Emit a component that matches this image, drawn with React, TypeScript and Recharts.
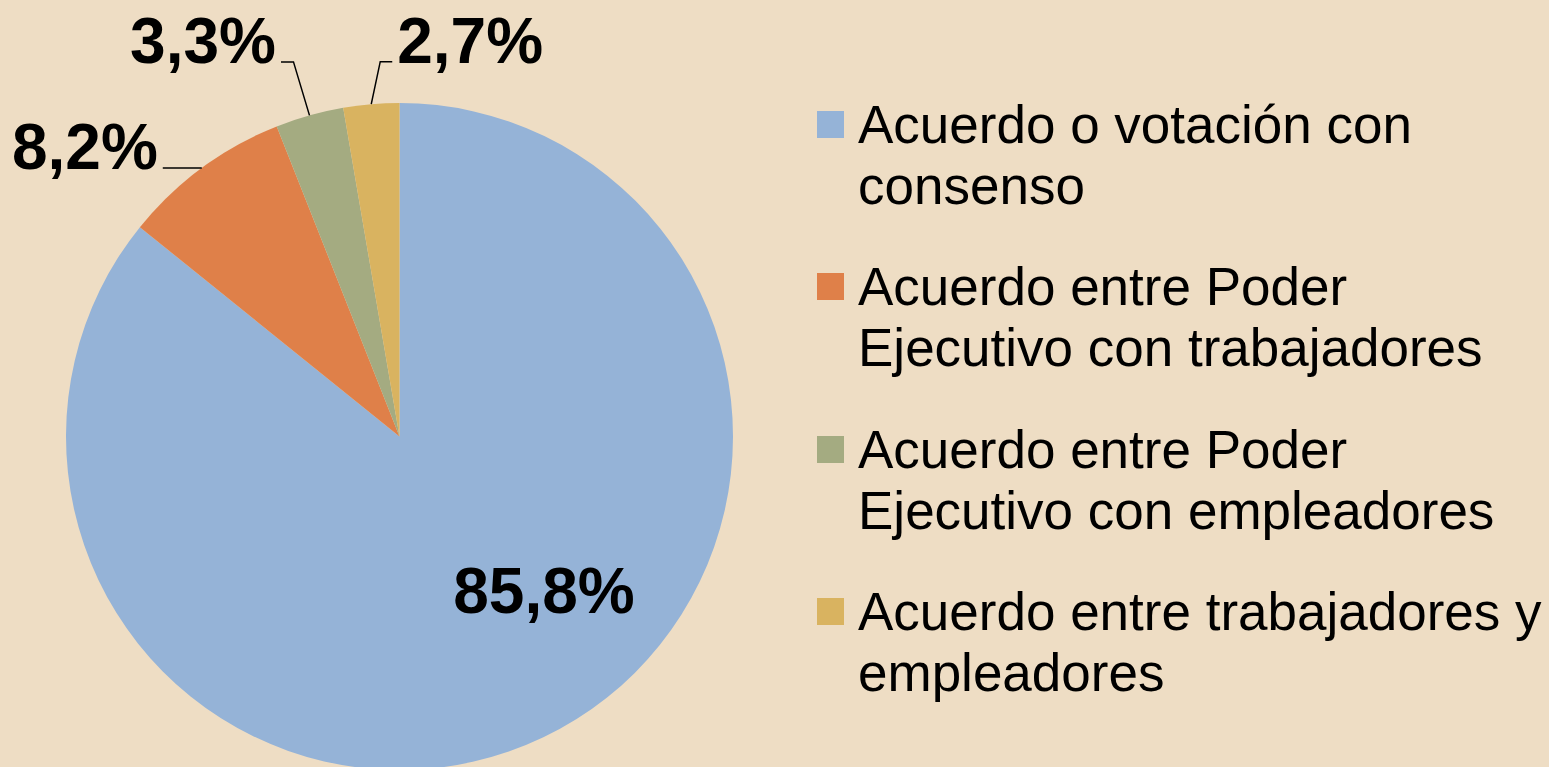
import React from "react";
import { Cell, Legend, Pie, PieChart } from "recharts";

const NAMES = [
  "Acuerdo o votación con\nconsenso",
  "Acuerdo entre Poder\nEjecutivo con trabajadores",
  "Acuerdo entre Poder\nEjecutivo con empleadores",
  "Acuerdo entre trabajadores y\nempleadores",
];
const VALUES = [85.8, 8.2, 3.3, 2.7];
const COLORS = ["#95B3D7", "#DF8049", "#A4AB81", "#D9B360"];

const BG = "#EEDDC4";
const FONT = "Arial, 'Liberation Sans', sans-serif";
const RADIAN = Math.PI / 180;

// label placement: inside label as polar offset, outer ones as leader elbow + arm
const LABEL_LAYOUT = [
  { inside: true, angle: -50.7, r: 0.684 },
  { dx: 0, dy: 0, arm: -39 },
  { dx: -16, dy: -53.5, arm: -12.5 },
  { dx: 9, dy: -42.5, arm: 12 },
];

const rows = NAMES.map((name, i) => ({ name, value: VALUES[i] }));

function fmt(v: number): string {
  return v.toFixed(1).replace(".", ",") + "%";
}

function renderLabel(props: any) {
  const { cx, cy, midAngle, outerRadius, index, value } = props;
  const lay: any = LABEL_LAYOUT[index];
  const text = fmt(value);
  if (lay.inside) {
    const r = outerRadius * lay.r;
    const x = cx + r * Math.cos(lay.angle * RADIAN);
    const y = cy - r * Math.sin(lay.angle * RADIAN);
    return (
      <text x={x} y={y} textAnchor="middle" fontSize={64} fontWeight="bold" fontFamily={FONT} fill="#000">
        {text}
      </text>
    );
  }
  const sx = cx + outerRadius * Math.cos(-midAngle * RADIAN);
  const sy = cy + outerRadius * Math.sin(-midAngle * RADIAN);
  const ex = sx + lay.dx;
  const ey = sy + lay.dy;
  const ax = ex + lay.arm;
  const dir = lay.arm < 0 ? -1 : 1;
  return (
    <g>
      <polyline points={`${sx},${sy} ${ex},${ey} ${ax},${ey}`} fill="none" stroke="#000" strokeWidth={1.5} />
      <text
        x={ax + dir * 5}
        y={ey + 1.5}
        textAnchor={dir < 0 ? "end" : "start"}
        fontSize={64}
        fontWeight="bold"
        fontFamily={FONT}
        fill="#000"
      >
        {text}
      </text>
    </g>
  );
}

function renderLegend() {
  return (
    <div style={{ fontFamily: FONT, fontSize: 53, lineHeight: "61px", color: "#000" }}>
      {NAMES.map((n, i) => (
        <div key={i} style={{ display: "flex", alignItems: "flex-start", marginBottom: 40.4 }}>
          <div style={{ width: 27, height: 27, marginTop: 17, marginRight: 14, background: COLORS[i], flex: "none" }} />
          <div style={{ whiteSpace: "pre-line" }}>{n}</div>
        </div>
      ))}
    </div>
  );
}

export default function App() {
  return (
    <div style={{ position: "absolute", left: 0, top: 0, width: 1549, height: 767, background: BG, overflow: "hidden" }}>
      <PieChart width={1549} height={767} margin={{ top: 0, right: 0, bottom: 0, left: 0 }}>
        <Pie
          data={rows}
          dataKey="value"
          nameKey="name"
          cx={399.5}
          cy={436.5}
          outerRadius={333.5}
          startAngle={90}
          endAngle={-270}
          stroke="none"
          label={renderLabel}
          labelLine={false}
          isAnimationActive={false}
        >
          {rows.map((_, i) => (
            <Cell key={i} fill={COLORS[i]} />
          ))}
        </Pie>
        <Legend
          layout="vertical"
          align="right"
          verticalAlign="top"
          content={renderLegend}
          wrapperStyle={{ top: 93.8, left: 817, right: "auto", width: 732 }}
        />
      </PieChart>
    </div>
  );
}
